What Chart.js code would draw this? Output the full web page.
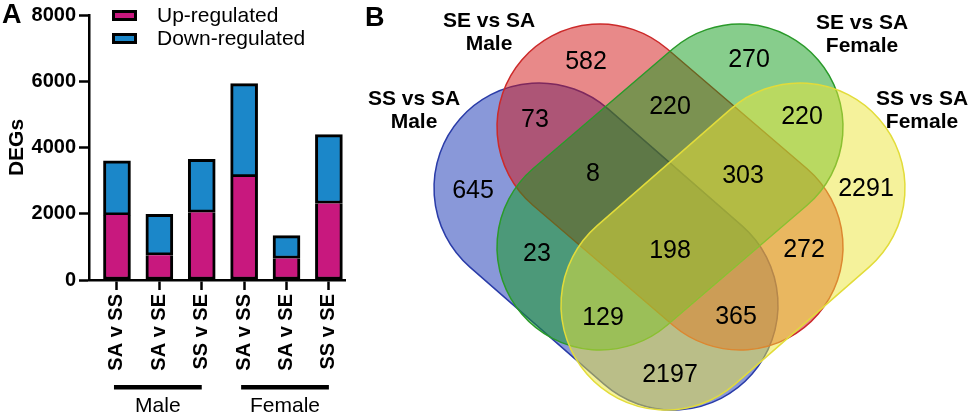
<!DOCTYPE html>
<html>
<head>
<meta charset="utf-8">
<script src="https://cdn.jsdelivr.net/npm/chart.js@4.4.1/dist/chart.umd.min.js"></script>
<style>
  html, body { margin: 0; padding: 0; background: #fff; }
  #wrap { position: relative; width: 970px; height: 415px; overflow: hidden; }
  #barBox { position: absolute; left: 0; top: 0; width: 350px; height: 415px; }
  #vennBox { position: absolute; left: 350px; top: 0; width: 620px; height: 415px; }
</style>
</head>
<body>
<div id="wrap">
  <div id="barBox"><canvas id="bars"></canvas></div>
  <div id="vennBox"><canvas id="venn"></canvas></div>
</div>
<script>
// Panel A: DEG counts per comparison
const comparisons = ["SA v SS", "SA v SE", "SS v SE", "SA v SS", "SA v SE", "SS v SE"]
const groups = ["Male", "Female"]
const groupOf = [0, 0, 0, 1, 1, 1]
const upRegulated = [1960, 750, 2040, 3110, 650, 2310]
const downRegulated = [1640, 1230, 1600, 2820, 690, 2080]
const yTicks = [0, 2000, 4000, 6000, 8000]

// Panel B: overlap of DEG lists
const setNames = [["SS vs SA", "Male"], ["SE vs SA", "Male"], ["SE vs SA", "Female"], ["SS vs SA", "Female"]]
const regionKeys = ["A", "B", "C", "D", "AB", "BC", "CD", "ABC", "BCD", "AC", "ABCD", "BD", "ACD", "ABD", "AD"]
const regionCounts = [645, 582, 270, 2291, 73, 220, 220, 8, 303, 23, 198, 272, 129, 365, 2197]

// layout of the venn panel (panel units = px of a 620x415 box)
const regionPos = {
  A: [123, 191], B: [236, 62], C: [399, 60], D: [516, 189],
  AB: [185, 120], BC: [320, 107], CD: [452, 117],
  ABC: [243, 174], BCD: [393, 176], AC: [187, 254], ABCD: [320, 251], BD: [454, 250],
  ACD: [253, 318], ABD: [386, 317], AD: [320, 375]
}
const vennShapes = [
  { c1: [189, 188], c2: [323, 305], r: 105, fill: "rgba(20,50,180,0.5)", stroke: "#2a3ca8" },
  { c1: [250, 127], c2: [390, 247], r: 103, fill: "rgba(210,20,20,0.5)", stroke: "#cc2a2a" },
  { c1: [390, 127], c2: [250, 247], r: 103, fill: "rgba(15,155,25,0.5)", stroke: "#2a9a2a" },
  { c1: [450, 188], c2: [316, 305], r: 105, fill: "rgba(235,229,55,0.5)", stroke: "#e2dc3a" }
]
const setLabelPos = [[64, 99], [139, 21], [512, 23], [572, 99]]

const FONT = "'Liberation Sans', Arial, Helvetica, sans-serif"

const barExtras = {
  id: "barExtras",
  afterDraw(chart) {
    const ctx = chart.ctx
    const xs = chart.scales.x
    ctx.save()
    ctx.fillStyle = "#000"
    ctx.font = "bold 27px " + FONT
    ctx.textBaseline = "alphabetic"
    ctx.fillText("A", 2, 23)

    // legend
    chart.data.datasets.forEach((ds, i) => {
      const y = 10 + i * 23
      ctx.fillStyle = ds.backgroundColor
      ctx.fillRect(113.5, y + 1.5, 22, 8)
      ctx.lineWidth = 3
      ctx.strokeStyle = "#000"
      ctx.strokeRect(113.5, y + 1.5, 22, 8)
      ctx.fillStyle = "#000"
      ctx.font = "21px " + FONT
      ctx.textBaseline = "middle"
      ctx.textAlign = "left"
      ctx.fillText(ds.label, 157, y + 6)
    })

    // group brackets under the axis
    ctx.font = "21px " + FONT
    ctx.textBaseline = "alphabetic"
    ctx.textAlign = "center"
    groups.forEach((g, gi) => {
      const idx = groupOf.map((v, i) => (v === gi ? i : -1)).filter(i => i >= 0)
      const x0 = xs.getPixelForValue(idx[0]) - 3
      const x1 = xs.getPixelForValue(idx[idx.length - 1])
      ctx.fillRect(x0, 385, x1 - x0, 4.5)
      ctx.fillText(g, (x0 + x1) / 2, 412)
    })
    ctx.restore()
  }
}

new Chart(document.getElementById("bars"), {
  type: "bar",
  data: {
    labels: comparisons.map((c, i) => i),
    datasets: [
      {
        label: "Up-regulated",
        data: upRegulated,
        backgroundColor: "#c8187e",
        borderColor: "#000",
        borderWidth: 3,
        borderSkipped: "top",
        barThickness: 27
      },
      {
        label: "Down-regulated",
        data: downRegulated,
        backgroundColor: "#1b87c9",
        borderColor: "#000",
        borderWidth: 3,
        borderSkipped: false,
        barThickness: 27
      }
    ]
  },
  options: {
    responsive: true,
    maintainAspectRatio: false,
    animation: false,
    layout: { padding: { top: 12, right: 5, bottom: 0, left: 0 } },
    plugins: {
      legend: { display: false },
      tooltip: { enabled: false }
    },
    scales: {
      x: {
        type: "linear",
        stacked: true,
        offset: false,
        min: -0.66,
        max: 5.38,
        afterBuildTicks: s => { s.ticks = comparisons.map((c, i) => ({ value: i })) },
        afterFit: s => {
          s.height = 135
          s.paddingLeft = 0
          s.paddingRight = 0
        },
        ticks: {
          callback: v => comparisons[v],
          autoSkip: false,
          minRotation: 90,
          maxRotation: 90,
          padding: 4,
          color: "#000",
          font: { family: FONT, size: 20, weight: "bold" }
        },
        grid: { offset: false, drawOnChartArea: false, tickLength: 10, tickWidth: 2.5, tickColor: "#000" },
        border: { color: "#000", width: 2.5 }
      },
      y: {
        stacked: true,
        min: 0,
        max: 8000,
        afterBuildTicks: s => { s.ticks = yTicks.map(v => ({ value: v })) },
        afterFit: s => { s.width = 89 },
        ticks: {
          callback: v => String(v),
          padding: 3,
          color: "#000",
          font: { family: FONT, size: 20, weight: "bold" }
        },
        grid: { drawOnChartArea: false, tickLength: 10, tickWidth: 2.5, tickColor: "#000" },
        border: { color: "#000", width: 2.5 },
        title: {
          display: true,
          text: "DEGs",
          color: "#000",
          padding: { top: 5, bottom: 0 },
          font: { family: FONT, size: 21, weight: "bold" }
        }
      }
    }
  },
  plugins: [barExtras]
})

const vennExtras = {
  id: "vennExtras",
  beforeDatasetsDraw(chart) {
    const ctx = chart.ctx
    const xs = chart.scales.x, ys = chart.scales.y
    const unit = Math.abs(xs.getPixelForValue(1) - xs.getPixelForValue(0))
    ctx.save()
    vennShapes.forEach(s => {
      const x1 = xs.getPixelForValue(s.c1[0]), y1 = ys.getPixelForValue(s.c1[1])
      const x2 = xs.getPixelForValue(s.c2[0]), y2 = ys.getPixelForValue(s.c2[1])
      const r = s.r * unit
      const a = Math.atan2(y2 - y1, x2 - x1)
      ctx.beginPath()
      ctx.arc(x2, y2, r, a - Math.PI / 2, a + Math.PI / 2)
      ctx.arc(x1, y1, r, a + Math.PI / 2, a + 3 * Math.PI / 2)
      ctx.closePath()
      ctx.fillStyle = s.fill
      ctx.fill()
      ctx.lineWidth = 1.5
      ctx.strokeStyle = s.stroke
      ctx.stroke()
    })
    ctx.restore()
  },
  afterDatasetsDraw(chart) {
    const ctx = chart.ctx
    const xs = chart.scales.x, ys = chart.scales.y
    const meta = chart.getDatasetMeta(0)
    ctx.save()
    ctx.fillStyle = "#000"
    ctx.textAlign = "center"
    ctx.textBaseline = "middle"
    ctx.font = "25px " + FONT
    meta.data.forEach((pt, i) => {
      ctx.fillText(String(regionCounts[i]), pt.x, pt.y)
    })
    ctx.font = "bold 21px " + FONT
    setNames.forEach((lines, i) => {
      const x = xs.getPixelForValue(setLabelPos[i][0])
      const y = ys.getPixelForValue(setLabelPos[i][1])
      lines.forEach((t, j) => ctx.fillText(t, x, y + j * 23))
    })
    ctx.textAlign = "left"
    ctx.textBaseline = "alphabetic"
    ctx.font = "bold 27px " + FONT
    ctx.fillText("B", 15, 26)
    ctx.restore()
  }
}

new Chart(document.getElementById("venn"), {
  type: "scatter",
  data: {
    datasets: [{
      label: "regions",
      data: regionKeys.map((k, i) => ({ x: regionPos[k][0], y: regionPos[k][1], n: regionCounts[i] })),
      pointRadius: 0,
      pointHoverRadius: 0
    }]
  },
  options: {
    responsive: true,
    maintainAspectRatio: false,
    animation: false,
    layout: { padding: 0 },
    plugins: {
      legend: { display: false },
      tooltip: { enabled: false }
    },
    scales: {
      x: { type: "linear", min: 0, max: 620, display: false },
      y: { type: "linear", min: 0, max: 415, reverse: true, display: false }
    }
  },
  plugins: [vennExtras]
})
</script>
</body>
</html>
